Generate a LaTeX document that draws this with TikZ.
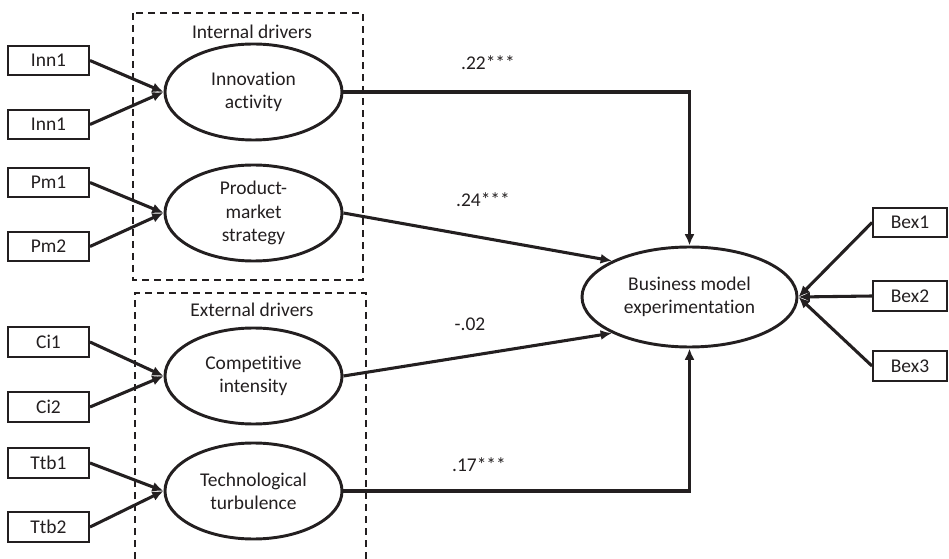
\documentclass[tikz,border=0pt]{standalone}
\usepackage{fontspec}
\setmainfont{Carlito}[Ligatures=NoCommon]
\usetikzlibrary{arrows.meta,shapes.geometric}
\definecolor{ink}{HTML}{231F20}

\begin{document}
\begin{tikzpicture}[x=0.75pt,y=-0.75pt,
    font=\fontsize{14.6}{17.5}\selectfont,color=ink,
    ind/.style={draw,line width=1.5pt,minimum width=60.75pt,minimum height=22pt,inner sep=0pt},
    latent/.style={draw,ellipse,line width=2.2pt,minimum width=132.75pt,minimum height=72pt,align=center,inner sep=0pt},
    link/.style={line width=2.3pt,-{Latex[length=8.5pt,width=7.5pt]}},
    drv/.style={line width=1.3pt,dash pattern=on 5.5pt off 3.5pt}]
    \useasboundingbox (0,0) rectangle (949,559);
    \draw[drv] (133,13) rectangle (363,280);
    \draw[drv] (135,559) |- (366,293) -- (366,559);
    \node (intd) at (252,32) {Internal drivers};
    \node (extd) at (252,310) {External drivers};
    \node[ind] (inn1) at (48.5,60.5) {Inn1};
    \node[ind] (inn2) at (48.5,124.5) {Inn1};
    \node[ind] (pm1) at (48.5,182.5) {Pm1};
    \node[ind] (pm2) at (48.5,246.5) {Pm2};
    \node[ind] (ci1) at (48.5,342) {Ci1};
    \node[ind] (ci2) at (48.5,407) {Ci2};
    \node[ind] (ttb1) at (48.5,463) {Ttb1};
    \node[ind] (ttb2) at (48.5,527) {Ttb2};
    \node[latent] (inno) at (253.5,92) {Innovation\\activity};
    \node[latent] (pms) at (253.5,213) {Product-\\market\\strategy};
    \node[latent] (comp) at (253.5,376) {Competitive\\intensity};
    \node[latent] (tech) at (253.5,491) {Technological\\turbulence};
    \node[latent,minimum width=161.25pt,minimum height=75pt] (bme) at (689.5,297) {Business model\\experimentation};
    \node[ind,minimum width=55.5pt] (bex1) at (910,222.5) {Bex1};
    \node[ind,minimum width=55.5pt] (bex2) at (910,296) {Bex2};
    \node[ind,minimum width=55.5pt] (bex3) at (910,366) {Bex3};
    \draw[link] (inn1.east) -- (inno.west);
    \draw[link] (inn2.east) -- (inno.west);
    \draw[link] (pm1.east) -- (pms.west);
    \draw[link] (pm2.east) -- (pms.west);
    \draw[link] (ci1.east) -- (comp.west);
    \draw[link] (ci2.east) -- (comp.west);
    \draw[link] (ttb1.east) -- (tech.west);
    \draw[link] (ttb2.east) -- (tech.west);
    \draw[link] (inno.east) -| (bme.north);
    \draw[link] (pms.east) -- (bme.155);
    \draw[link] (comp.east) -- (bme.205);
    \draw[link] (tech.east) -| (bme.south);
    \draw[link] (bex1.west) -- (bme.east);
    \draw[link] (bex2.west) -- (bme.east);
    \draw[link] (bex3.west) -- (bme.east);
    \node (c1) at (488,63) {.22***};
    \node (c2) at (483,200) {.24***};
    \node (c3) at (470,324) {-.02};
    \node (c4) at (479,465) {.17***};
\end{tikzpicture}
\end{document}
